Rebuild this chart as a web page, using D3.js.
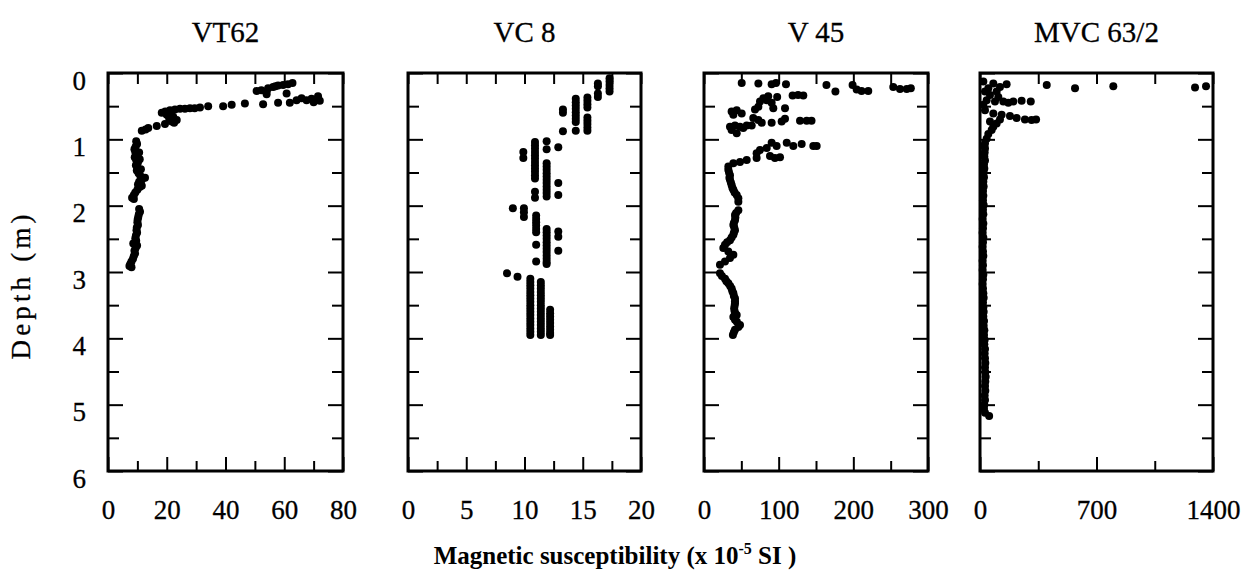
<!DOCTYPE html>
<html>
<head>
<meta charset="utf-8">
<script src="https://cdn.jsdelivr.net/npm/d3@7"></script>
<style>
 body { margin: 0; background: #fff; }
 text { font-family: "Liberation Serif", "Times New Roman", serif; fill: #000; }
</style>
</head>
<body>
<div id="chart"></div>
<script>
// core titles and axis settings
var titles = ["VT62", "VC 8", "V 45", "MVC 63/2"];
var xDomains = [[0, 80], [0, 20], [0, 300], [0, 1400]];
var xMajorTicks = [[0, 20, 40, 60, 80], [0, 5, 10, 15, 20], [0, 100, 200, 300], [0, 700, 1400]];
var xMinorTicks = [[10, 30, 50, 70], [2.5, 7.5, 12.5, 17.5], [50, 150, 250], [350, 1050]];
var depthTicks = [0, 1, 2, 3, 4, 5, 6];
var depthMinor = [0.5, 1.5, 2.5, 3.5, 4.5, 5.5];

// [depth (m), susceptibility]
var vt62 = [
 [0.27,50.6],[0.28,54],[0.23,54.5],[0.21,56.2],[0.19,57.9],[0.18,59.6],[0.17,61.3],[0.15,62.8],[0.32,54],[0.31,60.8],[0.26,52.2],[0.20,57],
 [0.50,34.1],[0.50,39.2],[0.48,42.1],[0.46,46.6],[0.47,52.8],[0.45,57.9],[0.45,61.9],[0.41,64.2],[0.38,65.9],[0.41,67.6],[0.39,69.3],[0.35,71.5],[0.42,72.1],[0.44,70],
 [0.52,31.3],[0.53,29.5],[0.53,27.9],[0.54,26.2],[0.54,24.5],[0.55,22.8],[0.56,21.1],[0.58,19.5],[0.60,18.3],[0.63,20],[0.66,22.2],[0.71,23.4],[0.73,21.7],[0.77,19.4],[0.80,16.6],[0.83,13.7],[0.87,11.5],[0.61,21.5],[0.68,20.8],[0.75,22.5],[0.85,12.8],
 [1.03,9.6],[1.07,9.9],[1.11,9.4],[1.15,9.0],[1.19,9.3],[1.23,9.8],[1.27,9.1],[1.31,9.6],[1.35,10.2],[1.39,9.5],[1.43,10.0],[1.47,9.8],[1.51,10.4],[1.55,11.0],[1.58,12.6],[1.61,11.5],[1.64,10.6],[1.68,10.2],[1.72,10.8],[1.76,10.0],[1.80,9.3],[1.84,8.8],[1.88,8.2],[1.90,8.8],
 [1.20,10.6],[1.30,10.8],[1.45,11.2],[1.70,11.5],
 [2.05,10.6],[2.09,10.9],[2.13,10.5],[2.17,10.3],[2.21,10.1],[2.25,10.0],[2.29,10.2],[2.33,9.8],[2.37,9.7],[2.41,9.9],[2.45,9.5],[2.49,9.3],[2.53,9.6],[2.57,8.6],[2.60,9.9],[2.64,9.4],[2.68,9.0],[2.72,9.2],[2.76,8.8],[2.80,8.5],[2.84,8.0],[2.88,7.6],[2.91,7.3],[2.93,8.0]
];

var vc8 = [
 [0.08,17.3],[0.13,17.3],[0.18,17.3],[0.23,17.3],[0.28,17.3],
 [0.16,16.3],[0.20,16.3],[0.31,16.3],[0.36,16.3],
 [0.37,15.4],[0.42,15.4],[0.47,15.4],[0.52,15.4],[0.67,15.4],[0.72,15.4],[0.77,15.4],[0.82,15.4],[0.87,15.4],
 [0.39,14.4],[0.44,14.4],[0.49,14.4],[0.54,14.4],[0.59,14.4],[0.64,14.4],[0.69,14.4],[0.74,14.4],[0.87,14.4],
 [0.55,13.3],[0.60,13.3],[0.88,13.3],
 [1.04,10.9],[1.09,10.9],[1.14,10.9],[1.19,10.9],[1.24,10.9],[1.29,10.9],[1.34,10.9],[1.39,10.9],[1.44,10.9],[1.49,10.9],[1.54,10.9],[1.59,10.9],[1.79,10.9],[1.88,10.9],
 [1.03,11.9],[1.15,11.9],[1.36,11.9],[1.41,11.9],[1.46,11.9],[1.51,11.9],[1.56,11.9],[1.61,11.9],[1.66,11.9],[1.71,11.9],[1.76,11.9],[1.81,11.9],[1.86,11.9],
 [1.12,12.9],[1.66,12.9],[1.84,12.9],
 [1.19,9.9],[1.28,9.9],
 [2.04,9.0],
 [2.04,9.95],[2.10,9.95],[2.17,9.95],
 [2.15,11.0],[2.20,11.0],[2.25,11.0],[2.30,11.0],[2.35,11.0],[2.40,11.0],[2.59,11.0],[2.84,11.0],
 [2.35,11.9],[2.40,11.9],[2.45,11.9],[2.50,11.9],[2.55,11.9],[2.60,11.9],[2.65,11.9],[2.70,11.9],[2.75,11.9],[2.80,11.9],[2.85,11.9],[2.88,11.9],
 [2.39,12.9],[2.47,12.9],[2.68,12.9],
 [3.02,8.5],[3.07,9.4],
 [3.10,10.5],[3.15,10.5],[3.20,10.5],[3.25,10.5],[3.30,10.5],[3.35,10.5],[3.40,10.5],[3.45,10.5],[3.50,10.5],[3.55,10.5],[3.60,10.5],[3.65,10.5],[3.70,10.5],[3.75,10.5],[3.80,10.5],[3.85,10.5],[3.90,10.5],[3.95,10.5],
 [3.15,11.4],[3.20,11.4],[3.25,11.4],[3.30,11.4],[3.35,11.4],[3.40,11.4],[3.45,11.4],[3.50,11.4],[3.55,11.4],[3.60,11.4],[3.65,11.4],[3.70,11.4],[3.75,11.4],[3.80,11.4],[3.85,11.4],[3.90,11.4],[3.95,11.4],
 [3.57,12.2],[3.62,12.2],[3.67,12.2],[3.72,12.2],[3.77,12.2],[3.82,12.2],[3.87,12.2],[3.92,12.2],[3.95,12.2]
];

var v45 = [
 [0.15,50.5],[0.16,72.8],[0.17,90.6],[0.15,96.4],[0.17,109.8],[0.18,164],[0.28,176],[0.18,199],[0.25,204.5],[0.27,211],[0.27,220],[0.21,253.5],[0.24,262.5],[0.24,271.5],[0.23,277],
 [0.36,98],[0.34,118.7],[0.33,126],[0.34,133],
 [0.43,75],[0.38,79.5],[0.41,84],[0.45,90.6],[0.51,72.8],[0.55,68.3],[0.53,92.8],[0.53,108.5],[0.35,86],
 [0.58,37],[0.56,43.8],[0.61,50.5],[0.63,39.3],
 [0.68,66],[0.71,72.8],[0.75,77.3],[0.75,90.6],[0.73,104],[0.69,108.5],[0.72,128.6],[0.72,137.5],[0.72,144],
 [0.81,34.8],[0.79,41.5],[0.81,48.2],[0.79,57.2],[0.79,63.9],[0.86,37],[0.91,43.8],[0.83,52.6],
 [1.05,90.6],[1.10,97.3],[1.05,110.8],[1.10,119.6],[1.07,130.8],[1.10,146.4],[1.10,150.9],[1.13,84],
 [1.21,70.5],[1.16,75],[1.25,88.4],[1.28,95],[1.27,101.8],[1.28,70.5],
 [1.31,57.2],[1.34,48.2],[1.36,39.3],[1.41,32.6],
 [1.46,32.6],[1.50,33.5],[1.54,34.8],[1.58,34],[1.61,34.8],[1.65,36],[1.69,37],[1.73,38],[1.76,39.3],[1.80,41],[1.84,43.8],[1.89,46],[1.94,46],
 [2.07,46],[2.11,43],[2.14,41.5],[2.18,42],[2.22,41.5],[2.26,40],[2.29,39.3],[2.33,40.5],[2.37,41.5],[2.41,40],[2.44,39.3],[2.48,37],[2.52,34.8],[2.55,31],[2.59,28.1],[2.64,25.9],[2.69,32.6],[2.74,39.3],[2.79,34.8],[2.84,28.1],[2.89,21.4],
 [3.02,21.4],[3.06,24],[3.10,28.1],[3.14,30],[3.17,32.6],[3.21,35],[3.25,37],[3.29,38],[3.32,39.3],[3.36,40],[3.40,41.5],[3.44,41.5],[3.47,41.5],[3.51,41],[3.55,40.4],[3.59,41],[3.62,41.5],[3.65,43.8],[3.68,39.3],[3.72,41.5],[3.75,44],[3.80,48.2],[3.83,46],[3.87,41.5],[3.91,40],[3.95,38.7]
];

var mvc632 = [
 [0.18,401],[0.23,571],[0.20,801],[0.22,1292],[0.20,1358],
 [0.13,20],[0.16,80],[0.21,120],[0.17,160],[0.23,50],[0.28,100],[0.28,30],
 [0.33,60],[0.36,110],[0.43,140],[0.45,170],[0.43,200],[0.42,250],[0.43,305],[0.43,90],[0.41,40],[0.48,20],
 [0.56,30],[0.61,80],[0.63,130],[0.65,180],[0.68,220],[0.70,270],[0.71,310],[0.70,337],[0.70,120],[0.73,60],
 [0.76,100],[0.81,80],[0.86,70],[0.92,50],[0.99,40],[1.06,30],[1.10,26],
 [1.14,30],[1.20,28],[1.26,26],[1.32,30],[1.38,24],[1.44,26],[1.50,22],[1.57,24],[1.64,20],[1.71,22],[1.78,18],[1.85,20],[1.92,18],[1.99,22],
 [2.06,18],[2.13,20],[2.20,16],[2.27,20],[2.34,18],[2.41,16],[2.48,20],[2.55,18],[2.62,16],[2.69,18],[2.76,20],[2.83,16],[2.90,18],[2.97,16],
 [3.04,20],[3.11,18],[3.18,16],[3.25,18],[3.32,20],[3.39,22],[3.46,18],[3.53,20],[3.60,22],[3.67,20],[3.74,24],[3.81,22],[3.88,26],[3.95,24],
 [4.02,28],[4.09,26],[4.16,30],[4.23,28],[4.30,30],[4.37,32],[4.44,30],[4.51,32],[4.58,34],[4.65,32],[4.72,30],[4.79,32],[4.86,28],[4.93,30],
 [5.00,26],[5.06,24],[5.12,30],[5.17,55]
];
var series = [vt62, vc8, v45, mvc632];

// layout
var w = 1246, h = 575;
var panelLeft = [108, 408, 704, 980];
var panelWidth = [235, 233, 224, 233];
var plotTop = 73, plotBottom = 471;

var svg = d3.select("#chart").append("svg")
 .attr("width", w)
 .attr("height", h);

var y = d3.scaleLinear().domain([0, 6]).range([plotTop, plotBottom]);

function styleAxis(g, size) {
 g.select(".domain").remove();
 g.selectAll(".tick line").attr("stroke", "#000").attr("stroke-width", 2);
 g.attr("font-family", "Liberation Serif").attr("font-size", size);
 g.selectAll(".tick text").attr("stroke", "#000").attr("stroke-width", 0.3);
}

titles.forEach(function(title, i) {
 var x = d3.scaleLinear().domain(xDomains[i]).range([panelLeft[i], panelLeft[i] + panelWidth[i]]);
 var g = svg.append("g");
 var right = panelLeft[i] + panelWidth[i];

 // ticks on all four sides, pointing inward
 g.append("g").attr("transform", "translate(0," + plotBottom + ")")
  .call(d3.axisBottom(x).tickValues(xMajorTicks[i]).tickSize(-14).tickPadding(29).tickFormat(d3.format("d")))
  .call(styleAxis, 27);
 g.append("g").attr("transform", "translate(0," + plotBottom + ")")
  .call(d3.axisBottom(x).tickValues(xMinorTicks[i]).tickSize(-10).tickFormat(""))
  .call(styleAxis, 27);
 g.append("g").attr("transform", "translate(0," + plotTop + ")")
  .call(d3.axisTop(x).tickValues(xMajorTicks[i].concat(xMinorTicks[i])).tickSize(-11).tickFormat(""))
  .call(styleAxis, 27);

 var left = g.append("g").attr("transform", "translate(" + panelLeft[i] + ",0)")
  .call(d3.axisLeft(y).tickValues(depthTicks).tickSize(-15).tickPadding(22).tickFormat(i === 0 ? d3.format("d") : ""))
  .call(styleAxis, 27);
 left.selectAll(".tick text").attr("dy", "0.6em");
 g.append("g").attr("transform", "translate(" + panelLeft[i] + ",0)")
  .call(d3.axisLeft(y).tickValues(depthMinor).tickSize(-11).tickFormat(""))
  .call(styleAxis, 27);
 g.append("g").attr("transform", "translate(" + right + ",0)")
  .call(d3.axisRight(y).tickValues(depthTicks).tickSize(-15).tickFormat(""))
  .call(styleAxis, 27);
 g.append("g").attr("transform", "translate(" + right + ",0)")
  .call(d3.axisRight(y).tickValues(depthMinor).tickSize(-11).tickFormat(""))
  .call(styleAxis, 27);

 g.append("rect")
  .attr("x", panelLeft[i]).attr("y", plotTop)
  .attr("width", panelWidth[i]).attr("height", plotBottom - plotTop)
  .attr("fill", "none").attr("stroke", "#000").attr("stroke-width", 3);

 g.selectAll("circle.pt")
  .data(series[i])
  .enter()
  .append("circle")
  .attr("class", "pt")
  .attr("cx", function(d) { return x(d[1]); })
  .attr("cy", function(d) { return y(d[0]); })
  .attr("r", 4)
  .attr("fill", "#000");

 svg.append("text")
  .text(title)
  .attr("x", panelLeft[i] + panelWidth[i] / 2)
  .attr("y", 42)
  .attr("text-anchor", "middle")
  .attr("font-size", 29)
  .attr("stroke", "#000")
  .attr("stroke-width", 0.3);
});

svg.append("text")
 .text("Depth (m)")
 .attr("transform", "translate(30,287) rotate(-90)")
 .attr("text-anchor", "middle")
 .attr("font-size", 27)
 .attr("stroke", "#000")
 .attr("stroke-width", 0.3)
 .attr("textLength", 145)
 .attr("lengthAdjust", "spacing");

var xt = svg.append("text")
 .attr("x", 615)
 .attr("y", 564)
 .attr("text-anchor", "middle")
 .attr("font-size", 25)
 .attr("font-weight", "bold");
xt.append("tspan").text("Magnetic susceptibility (x 10");
xt.append("tspan").text("-5").attr("font-size", 16).attr("dy", -10);
xt.append("tspan").text(" SI )").attr("dy", 10);
</script>
</body>
</html>
